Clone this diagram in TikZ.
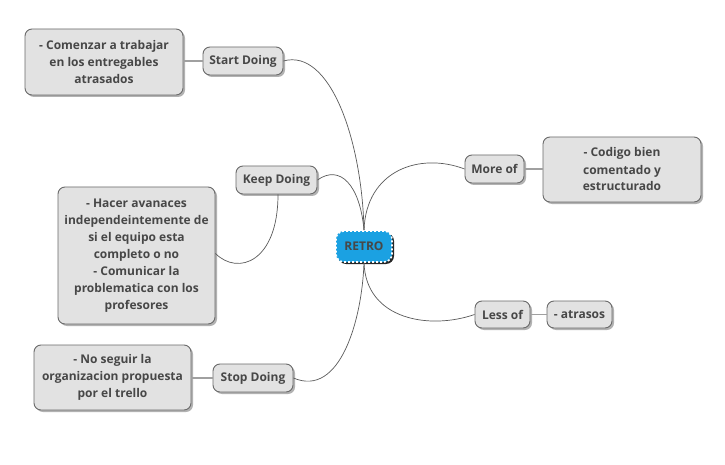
\documentclass[tikz,border=0pt]{standalone}
\usepackage{fontspec}
\setmainfont{Open Sans}
\usetikzlibrary{shadows}
\definecolor{nodefill}{HTML}{E2E2E2}
\definecolor{nodeline}{HTML}{6A6A6A}
\definecolor{txt}{HTML}{474747}
\definecolor{retroblue}{HTML}{1BA1E2}
\definecolor{curvecol}{HTML}{5A5A5A}
\definecolor{linkcol}{HTML}{A0A0A0}
\begin{document}
\begin{tikzpicture}[x=1pt,y=-1pt,
  box/.style={rectangle, rounded corners=7pt, fill=nodefill, draw=nodeline, line width=0.9pt,
    text=txt, font=\bfseries\fontsize{12}{17}\selectfont, align=center, inner sep=0pt,
    drop shadow={shadow xshift=2pt, shadow yshift=-2pt, opacity=0.3, fill=black}},
  retro/.style={rectangle, rounded corners=8pt, fill=retroblue, draw=white, line width=1.6pt,
    dash pattern=on 2pt off 2pt, text=txt, font=\bfseries\fontsize{12}{17}\selectfont,
    inner sep=0pt, drop shadow={shadow xshift=2pt, shadow yshift=-2pt, opacity=0.85, fill=black}},
  curve/.style={draw=curvecol, line width=0.7pt},
  link/.style={draw=linkcol, line width=1.6pt}
]
\useasboundingbox (0,0) rectangle (725,465);
\fill[white] (0,0) rectangle (725,465);

% level-1 and leaves
\node[box, minimum width=158pt, minimum height=66pt] (l1) at (104,62)
  {- Comenzar a trabajar\\en los entregables\\atrasados};
\node[box, minimum width=80pt, minimum height=28pt] (sd) at (243,61) {Start Doing};
\node[box, minimum width=81pt, minimum height=28pt] (kd) at (276.5,180) {Keep Doing};
\node[box, minimum width=157pt, minimum height=137pt] (l2) at (136.5,255.5)
  {- Hacer avanaces\\independeintemente de\\si el equipo esta\\completo o no\\- Comunicar la\\problematica con los\\profesores};
\node[box, minimum width=80pt, minimum height=28pt] (st) at (253,378) {Stop Doing};
\node[box, minimum width=157pt, minimum height=65pt] (l3) at (112.5,377.5)
  {- No seguir la\\organizacion propuesta\\por el trello};
\node[box, minimum width=59pt, minimum height=28pt] (mo) at (494.5,169) {More of};
\node[box, minimum width=158pt, minimum height=65pt] (l4) at (622,169.5)
  {- Codigo bien\\comentado y\\estructurado};
\node[box, minimum width=55pt, minimum height=27pt] (lo) at (502.5,314.5) {Less of};
\node[box, minimum width=65pt, minimum height=27pt] (l5) at (579.5,314.5) {- atrasos};
\node[retro, minimum width=56pt, minimum height=31pt] (r) at (364,246.5) {RETRO};

% curved connectors
\draw[curve] (sd.east) .. controls (330,48) and (362,140) .. (r.north);
\draw[curve] (kd.east) .. controls (340,164) and (360,185) .. (r.north);
\draw[curve] (r.north) .. controls (366,170) and (420,152) .. (mo.west);
\draw[curve] (r.south) .. controls (366,320) and (430,330) .. (lo.west);
\draw[curve] (st.east) .. controls (340,398) and (362,320) .. (r.south);
\draw[curve] ([xshift=1.5pt]kd.south) .. controls (278,262) and (238,276) .. ([yshift=2pt]l2.east);

% straight connectors
\draw[link] (sd.west) -- (sd.west -| l1.east);
\draw[link] (st.west) -- (st.west -| l3.east);
\draw[link] (mo.east) -- (mo.east -| l4.west);
\draw[link] (lo.east) -- (lo.east -| l5.west);
\end{tikzpicture}
\end{document}
